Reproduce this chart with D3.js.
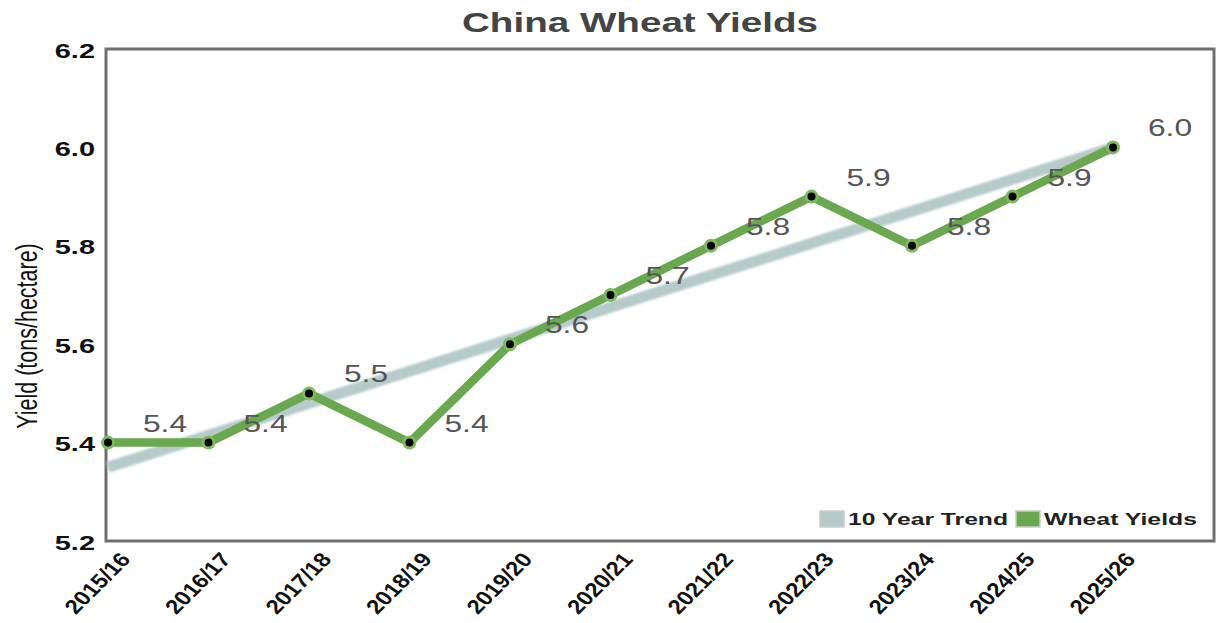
<!DOCTYPE html>
<html><head><meta charset="utf-8">
<script src="https://cdn.jsdelivr.net/npm/d3@7"></script>
<style>body{margin:0;background:#fff;font-family:"Liberation Sans",Arial,sans-serif;}</style>
</head><body>
<svg id="c" width="1218" height="623"></svg>
<script>
const categories = ["2015/16","2016/17","2017/18","2018/19","2019/20","2020/21","2021/22","2022/23","2023/24","2024/25","2025/26"];
const wheatYields = [5.4,5.4,5.5,5.4,5.6,5.7,5.8,5.9,5.8,5.9,6.0];
const trendValues = [5.35,5.415,5.48,5.545,5.61,5.675,5.74,5.805,5.87,5.935,6.0];
const yTicks = [5.2,5.4,5.6,5.8,6.0,6.2];
const legendItems = ["10 Year Trend","Wheat Yields"];

const SX = 1.38;
const svg = d3.select("#c");
const L = 106, R = 1214, T = 49, B = 541;
const x = d3.scalePoint().domain(categories).range([108, 1113]);
const y = d3.scaleLinear().domain([5.2, 6.2]).range([B, T]);

// title
svg.append("text").attr("x", 640).attr("y", 32).attr("text-anchor","middle")
  .attr("font-size", 28).attr("font-weight","bold").attr("fill","#444")
  .attr("textLength", 356).attr("lengthAdjust","spacingAndGlyphs")
  .text("China Wheat Yields");

// frame
svg.append("rect").attr("x", L).attr("y", T).attr("width", R-L).attr("height", B-T)
  .attr("fill","none").attr("stroke","#6e6e6e").attr("stroke-width",3);

// y axis
const ya = svg.append("g").attr("transform",`translate(${L},0)`)
  .call(d3.axisLeft(y).tickValues(yTicks).tickSize(0).tickFormat(d3.format(".1f")));
ya.select(".domain").remove();
ya.selectAll("text").attr("x", null).attr("dy", null)
  .attr("transform", `translate(-11,8) scale(${SX},1)`)
  .attr("text-anchor","end").attr("font-size",21).attr("font-weight","bold")
  .attr("font-family",'"Liberation Sans",Arial,sans-serif').attr("fill","#111");

// y title
svg.append("text").attr("transform",`translate(37,336) scale(${SX},1) rotate(-90)`)
  .attr("text-anchor","middle").attr("font-size",21.5).attr("fill","#111")
  .text("Yield (tons/hectare)");

// x axis
const xa = svg.append("g").attr("transform",`translate(0,${B})`)
  .call(d3.axisBottom(x).tickSize(0));
xa.select(".domain").remove();
xa.selectAll("text").attr("y", null).attr("dy", null)
  .attr("transform", `translate(23,19) scale(1.2,1) rotate(-50)`)
  .attr("text-anchor","end").attr("font-size",20).attr("font-weight","bold")
  .attr("font-family",'"Liberation Sans",Arial,sans-serif').attr("fill","#111");

// trend line
const defs = svg.append("defs");
defs.append("filter").attr("id","soft").append("feGaussianBlur").attr("stdDeviation",0.8);
svg.append("path").datum(trendValues)
  .attr("d", d3.line().x((d,i)=>x(categories[i])).y(d=>y(d)))
  .attr("fill","none").attr("stroke","#b6caca").attr("stroke-width",11)
  .attr("filter","url(#soft)");

// wheat line
svg.append("path").datum(wheatYields)
  .attr("d", d3.line().x((d,i)=>x(categories[i])).y(d=>y(d)))
  .attr("fill","none").attr("stroke","#6aa84f").attr("stroke-width",8.5)
  .attr("stroke-linejoin","round");

// points
svg.append("g").selectAll("circle").data(wheatYields).join("circle")
  .attr("cx",(d,i)=>x(categories[i])).attr("cy",d=>y(d)).attr("r",5.5)
  .attr("fill","#000").attr("stroke","#7fbb5e").attr("stroke-width",3);

// data labels
svg.append("g").selectAll("text").data(wheatYields).join("text")
  .attr("transform",(d,i)=>`translate(${x(categories[i])+57},${y(d)-11}) scale(${SX},1)`)
  .attr("text-anchor","middle").attr("font-size",23).attr("fill","#555")
  .text(d=>d3.format(".1f")(d));

// legend
const lg = svg.append("g");
const legColors = ["#b6caca","#6aa84f"];
const legX = [820, 1016], legW = [164, 157];
legendItems.forEach((t,i)=>{
  lg.append("rect").attr("x",legX[i]).attr("y",511).attr("width",24).attr("height",16)
    .attr("fill",legColors[i]).attr("stroke","#ccc").attr("stroke-width",1.5);
  lg.append("text").attr("x",legX[i]+28).attr("y",525).attr("font-size",17).attr("font-weight","bold")
    .attr("fill","#222").attr("textLength",legW[i]-4).attr("lengthAdjust","spacingAndGlyphs").text(t);
});
</script>
</body></html>
